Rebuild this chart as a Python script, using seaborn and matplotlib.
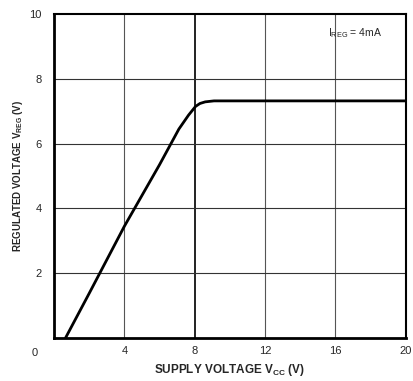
import matplotlib
matplotlib.use("Agg")
import matplotlib.pyplot as plt
import seaborn as sns
import pandas as pd

# curve
vcc = [0.65, 2.0, 4.0, 6.0, 7.1, 7.65, 8.05, 8.3, 8.6, 9.1, 10.0, 12.0, 16.0, 20.0]
vreg = [0.0, 1.38, 3.45, 5.35, 6.45, 6.88, 7.15, 7.24, 7.29, 7.32, 7.32, 7.32, 7.32, 7.32]
xticks = [4, 8, 12, 16, 20]
yticks = [2, 4, 6, 8, 10]

df = pd.DataFrame({"vcc": vcc, "vreg": vreg})

sns.set_style("white")
plt.rcParams['font.family'] = ['Liberation Sans', 'DejaVu Sans']

fig = plt.figure(figsize=(4.13, 3.81), dpi=100)
ax = fig.add_axes([0.131, 0.113, 0.851, 0.850])

# grid
for x in xticks[:-1]:
    ax.axvline(x, color="#222222" if x == 8 else "#555555", lw=1.4 if x == 8 else 0.8, zorder=1)
for y in yticks[:-1]:
    ax.axhline(y, color="#333333", lw=0.8, zorder=1)

sns.lineplot(data=df, x="vcc", y="vreg", sort=False, color="black", lw=2.0, ax=ax, zorder=3)

ax.set_xlim(0, 20)
ax.set_ylim(0, 10)
ax.set_xticks(xticks)
ax.set_yticks(yticks)
ax.set_xticklabels([str(t) for t in xticks], fontsize=8)
ax.set_yticklabels([str(t) for t in yticks], fontsize=8)
ax.tick_params(axis="y", length=0, pad=9)
ax.tick_params(axis="x", length=0, pad=6)
ax.text(-1.1, -0.3, "0", fontsize=8, ha="center", va="top")

for side in ["left", "bottom"]:
    ax.spines[side].set_linewidth(2.0)
for side in ["top", "right"]:
    ax.spines[side].set_linewidth(1.5)
for s in ax.spines.values():
    s.set_color("black")

ax.set_xlabel(r"SUPPLY VOLTAGE V$_{\mathregular{CC}}$ (V)", fontsize=8.5, fontweight="bold", labelpad=4)
ax.set_ylabel(r"REGULATED VOLTAGE V$_{\mathregular{REG}}$ (V)", fontsize=7, fontweight="bold", labelpad=3)
ax.text(17.1, 9.4, r"I$_{\mathregular{REG}}$ = 4mA", fontsize=7.5, ha="center", va="center")

fig.savefig("out.png", dpi=100)
